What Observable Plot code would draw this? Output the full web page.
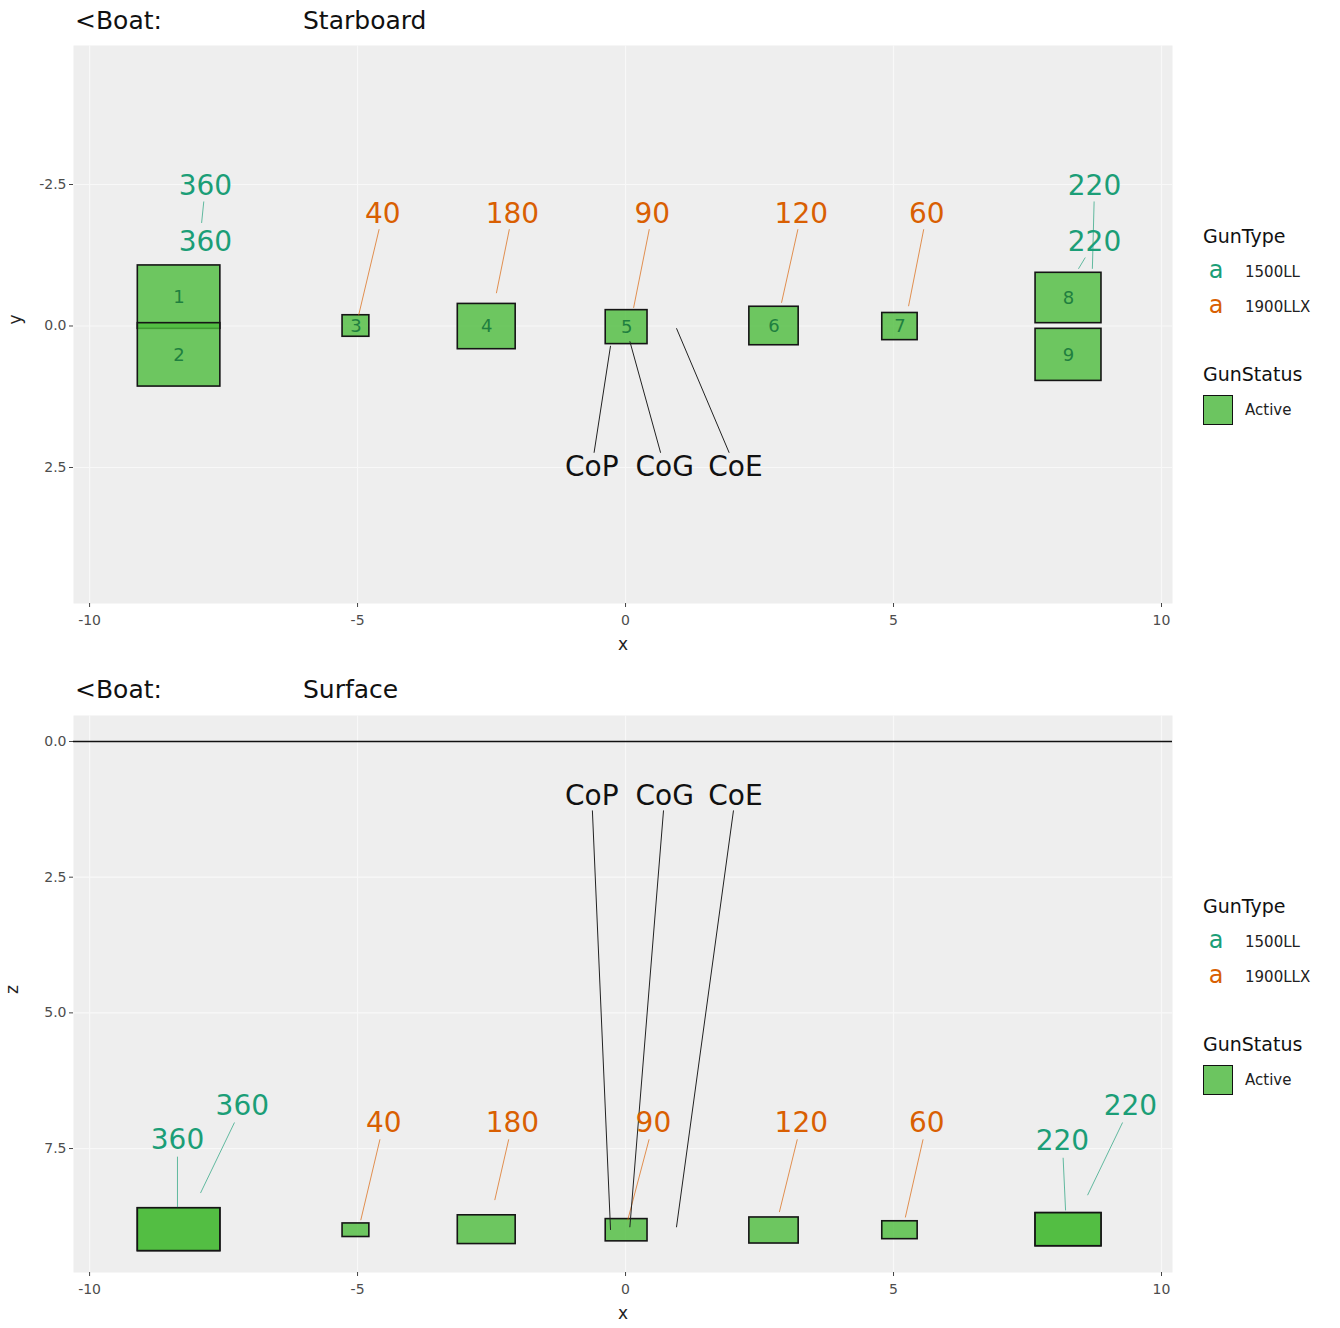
<!DOCTYPE html>
<html>
<head>
<meta charset="utf-8">
<script src="https://cdn.jsdelivr.net/npm/d3@7"></script>
<script src="https://cdn.jsdelivr.net/npm/@observablehq/plot@0.6"></script>
<style>
  body { margin: 0; background: #fff; font-family: "DejaVu Sans", sans-serif; }
  #page { position: relative; width: 1340px; height: 1328px; overflow: hidden; }
  .abs { position: absolute; line-height: 1; white-space: nowrap; transform: translateY(-50%); }
  .ttl { font-size: 25px; color: #111; }
  .lgt { font-size: 19px; color: #111; }
  .lgl { font-size: 15px; color: #222; }
  .lga { font-size: 24px; transform: translate(-50%, -58%); }
  .key { position: absolute; width: 28px; height: 28px; border: 1.5px solid #111; background: #6CC560; }
  .plotbox { position: absolute; left: 0; }
</style>
</head>
<body>
<div id="page"></div>
<script>
// ---------------- data ----------------
const gunId      = [1, 2, 3, 4, 5, 6, 7, 8, 9];
const gunType    = ["1500LL", "1500LL", "1900LLX", "1900LLX", "1900LLX", "1900LLX", "1900LLX", "1500LL", "1500LL"];
const gunVolume  = [360, 360, 40, 180, 90, 120, 60, 220, 220];
const gunStatus  = ["Active", "Active", "Active", "Active", "Active", "Active", "Active", "Active", "Active"];
const gunX0      = [-9.10, -9.10, -5.28, -3.13, -0.37, 2.31, 4.79, 7.65, 7.65];
const gunX1      = [-7.56, -7.56, -4.78, -2.05, 0.41, 3.23, 5.45, 8.88, 8.88];
const gunY0      = [-1.07, -0.05, -0.19, -0.39, -0.28, -0.34, -0.23, -0.94, 0.05];
const gunY1      = [0.05, 1.07, 0.19, 0.41, 0.32, 0.34, 0.25, -0.05, 0.97];
const gunZ0      = [8.60, 8.60, 8.88, 8.73, 8.80, 8.77, 8.84, 8.69, 8.69];
const gunZ1      = [9.39, 9.39, 9.13, 9.26, 9.21, 9.25, 9.17, 9.30, 9.30];

// repelled label positions and segment ends
const topLabelX  = [-7.84, -7.84, -4.53, -2.11, 0.50, 3.28, 5.62, 8.75, 8.75];
const topLabelY  = [-1.48, -2.47, -1.98, -1.98, -1.98, -1.98, -1.98, -1.48, -2.47];
const topSegEndX = [null, -7.91, -4.98, -2.41, 0.15, 2.91, 5.28, 8.45, 8.71];
const topSegEndY = [null, -1.82, -0.19, -0.58, -0.32, -0.41, -0.35, -1.01, -1.01];

const botLabelX  = [-8.36, -7.15, -4.51, -2.11, 0.52, 3.28, 5.62, 8.15, 9.42];
const botLabelZ  = [7.35, 6.72, 7.03, 7.03, 7.03, 7.03, 7.03, 7.37, 6.72];
const botSegEndX = [-8.36, -7.93, -4.94, -2.44, 0.04, 2.87, 5.22, 8.21, 8.62];
const botSegEndZ = [8.58, 8.32, 8.82, 8.45, 8.82, 8.67, 8.77, 8.64, 8.36];

const centerName   = ["CoP", "CoG", "CoE"];
const centerX      = [-0.28, 0.08, 0.95];
const centerY      = [0.35, 0.27, 0.04];
const centerZ      = [9.00, 8.95, 8.95];
const centerLabelX = [-0.63, 0.73, 2.05];
const centerLabelY = [2.5, 2.5, 2.5];
const centerLabelZ = [1.01, 1.01, 1.01];

const typeDomain = ["1500LL", "1900LLX"];
const typeColors = ["#1B9E77", "#D95F02"];
const xTicks = [-10, -5, 0, 5, 10];
const yTicks = [-2.5, 0, 2.5];
const zTicks = [0, 2.5, 5, 7.5];

(function () {
// ---------------- helpers ----------------
const FONT = "DejaVu Sans, sans-serif";
const guns = gunId.map((id, i) => ({
  id, type: gunType[i], vol: gunVolume[i], status: gunStatus[i],
  x0: gunX0[i], x1: gunX1[i], y0: gunY0[i], y1: gunY1[i], z0: gunZ0[i], z1: gunZ1[i]
}));

function segs(lx, ly, ex, ey, off) {
  const out = [];
  lx.forEach((x, i) => {
    if (ex[i] == null) return;
    const dy = ey[i] - ly[i];
    const t = Math.min(1, off / Math.abs(dy));
    out.push({ type: gunType[i], x1: x + t * (ex[i] - x), y1: ly[i] + t * dy, x2: ex[i], y2: ey[i] });
  });
  return out;
}

function panel(o) {
  const labels = gunId.map((id, i) => ({ type: gunType[i], vol: gunVolume[i], x: o.labelX[i], y: o.labelY[i] }));
  const gunSegs = segs(o.labelX, o.labelY, o.endX, o.endY, o.segOff);
  const cLabels = centerName.map((n, i) => ({ n, x: centerLabelX[i], y: o.cLabelY[i] }));
  const cSegs = centerName.map((n, i) => {
    const dy = o.cY[i] - o.cLabelY[i];
    const t = o.cOff / Math.abs(dy);
    return { x1: centerLabelX[i] + t * (centerX[i] - centerLabelX[i]), y1: o.cLabelY[i] + Math.sign(dy) * o.cOff, x2: centerX[i], y2: o.cY[i] };
  });
  return Plot.plot({
    width: 1185, height: o.height, marginLeft: 73, marginRight: 13, marginTop: o.marginTop, marginBottom: o.marginBottom,
    style: { fontFamily: FONT, background: "transparent", overflow: "visible" },
    x: { domain: [-10.30, 10.205] },
    y: { domain: o.yDomain, reverse: true },
    color: { domain: typeDomain, range: typeColors },
    marks: [
      Plot.frame({ fill: "#EEEEEE", stroke: null }),
      Plot.gridX(xTicks, { stroke: "#f8f8f8", strokeOpacity: 1, strokeWidth: 1.2 }),
      Plot.gridY(o.ticks, { stroke: "#f8f8f8", strokeOpacity: 1, strokeWidth: 1.2 }),
      o.surface ? Plot.ruleY([0], { stroke: "#111", strokeWidth: 1.6 }) : null,
      Plot.rect(guns, { x1: "x0", x2: "x1", y1: o.yKey0, y2: o.yKey1, fill: "#4CBB3C", fillOpacity: 0.8, stroke: "#151515", strokeWidth: 1.6 }),
      o.numbers ? Plot.text(guns, { x: d => (d.x0 + d.x1) / 2, y: d => (d[o.yKey0] + d[o.yKey1]) / 2, text: "id", fill: "#1f7f3f", fontSize: 18 }) : null,
      Plot.link(gunSegs, { x1: "x1", y1: "y1", x2: "x2", y2: "y2", stroke: "type", strokeWidth: 0.9, strokeOpacity: 0.75 }),
      Plot.link(cSegs, { x1: "x1", y1: "y1", x2: "x2", y2: "y2", stroke: "#222", strokeWidth: 1 }),
      Plot.text(labels, { x: "x", y: "y", text: d => String(d.vol), fill: "type", fontSize: 28 }),
      Plot.text(cLabels, { x: "x", y: "y", text: "n", fill: "#111", fontSize: 28 }),
      Plot.axisX(xTicks, { tickFormat: d => String(d), tickSize: 4, tickPadding: 8, fontSize: 14, fill: "#4d4d4d", stroke: "#444", label: null }),
      Plot.axisY(o.ticks, { tickFormat: d => d.toFixed(1), tickSize: 4, tickPadding: 3, fontSize: 14, fill: "#4d4d4d", stroke: "#444", label: null }),
      Plot.text(["x"], { frameAnchor: "bottom", dy: 46, fontSize: 17, fill: "#222" }),
      Plot.text([o.yLabel], { frameAnchor: "left", dx: -o.yLabelOff, rotate: -90, fontSize: 17, fill: "#222" })
    ]
  });
}

// ---------------- layout ----------------
const page = document.getElementById("page");

function addText(cls, left, cy, txt, color) {
  const d = document.createElement("div");
  d.className = "abs " + cls;
  d.style.left = left + "px";
  d.style.top = cy + "px";
  if (color) d.style.color = color;
  d.textContent = txt;
  page.appendChild(d);
}

function addLegend(panelTop) {
  addText("lgt", 1203, panelTop + 191, "GunType");
  typeDomain.forEach((t, i) => {
    addText("lga", 1216, panelTop + 227 + i * 35, "a", typeColors[i]);
    addText("lgl", 1245, panelTop + 227 + i * 35, t);
  });
  addText("lgt", 1203, panelTop + 329, "GunStatus");
  const k = document.createElement("div");
  k.className = "key";
  k.style.left = "1203px";
  k.style.top = (panelTop + 350) + "px";
  page.appendChild(k);
  addText("lgl", 1245, panelTop + 365, gunStatus[0]);
}

// top: starboard view (x, y)
addText("ttl", 75, 20, "<Boat:");
addText("ttl", 303, 20, "Starboard");
const plotTop = panel({
  yKey0: "y0", yKey1: "y1", yDomain: [-4.956, 4.903], ticks: yTicks, yLabel: "y",
  labelX: topLabelX, labelY: topLabelY, endX: topSegEndX, endY: topSegEndY,
  cLabelY: centerLabelY, cY: centerY, height: 625, marginTop: 5, marginBottom: 62,
  segOff: 0.27, cOff: 0.26, numbers: true, surface: false, yLabelOff: 58
});
const box1 = document.createElement("div");
box1.className = "plotbox"; box1.style.top = "40px";
box1.appendChild(plotTop);
page.appendChild(box1);
addLegend(45);

// bottom: surface view (x, z)
addText("ttl", 75, 689, "<Boat:");
addText("ttl", 303, 689, "Surface");
const plotBot = panel({
  yKey0: "z0", yKey1: "z1", yDomain: [-0.479, 9.784], ticks: zTicks, yLabel: "z",
  labelX: botLabelX, labelY: botLabelZ, endX: botSegEndX, endY: botSegEndZ,
  cLabelY: centerLabelZ, cY: centerZ, height: 619, marginTop: 6, marginBottom: 56,
  segOff: 0.3, cOff: 0.26, numbers: false, surface: true, yLabelOff: 61
});
const box2 = document.createElement("div");
box2.className = "plotbox"; box2.style.top = "709px";
box2.appendChild(plotBot);
page.appendChild(box2);
addLegend(715);
})();
</script>
</body>
</html>
